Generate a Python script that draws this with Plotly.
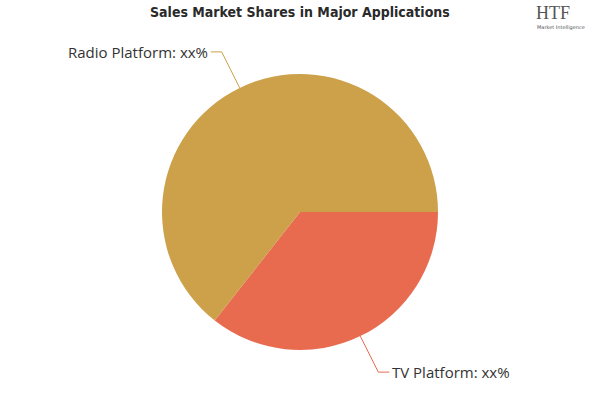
import math
import plotly.graph_objects as go

categories = ["TV Platform", "Radio Platform"]
shares = [35.6, 64.4]
label_texts = ["TV Platform: xx%", "Radio Platform: xx%"]
colors = ["#E86A4F", "#CDA04A"]

W, H = 600, 400
cx, cy, r = 300, 212, 138

fig = go.Figure(go.Pie(
    labels=categories,
    values=shares,
    sort=False,
    direction="clockwise",
    rotation=90,
    textinfo="none",
    hoverinfo="label+percent",
    marker=dict(colors=colors, line=dict(width=0)),
    domain=dict(x=[(cx - r) / W, (cx + r) / W], y=[1 - (cy + r) / H, 1 - (cy - r) / H]),
    showlegend=False,
))

# leader lines and labels, derived from slice mid-angles
total = sum(shares)
start = 0.0
shapes = []
annotations = []
for cat, val, txt, col in zip(categories, shares, label_texts, colors):
    mid = (start + val / 2) / total * 2 * math.pi  # clockwise from 3 o'clock
    start += val
    ex = cx + r * math.cos(mid)
    ey = cy + r * math.sin(mid)
    dy = math.sin(mid)
    side = 1 if math.cos(mid) >= 0 else -1
    ky = ey + 36 * (1 if dy > 0 else -1)
    kx = ex + 18 * side
    tx = kx + 11 * side
    for (x0, y0, x1, y1) in [(ex, ey, kx, ky), (kx, ky, tx, ky)]:
        shapes.append(dict(type="line", xref="paper", yref="paper",
                           x0=x0 / W, y0=1 - y0 / H, x1=x1 / W, y1=1 - y1 / H,
                           line=dict(color=col, width=1)))
    annotations.append(dict(x=(tx + side) / W, y=1 - ky / H, xref="paper", yref="paper",
                            text=txt, showarrow=False,
                            xanchor="left" if side > 0 else "right", yanchor="middle",
                            font=dict(family="Open Sans, DejaVu Sans", size=15, color="#333333")))

annotations.append(dict(x=0.5, y=1 - 12 / H, xref="paper", yref="paper",
                        text="<b>Sales Market Shares in Major Applications</b>", showarrow=False,
                        xanchor="center", yanchor="middle",
                        font=dict(family="DejaVu Sans Condensed, Liberation Sans Narrow, sans-serif", size=14, color="#2a2a2a")))
annotations.append(dict(x=553 / W, y=1 - 13 / H, xref="paper", yref="paper",
                        text="HTF", showarrow=False, xanchor="center", yanchor="middle",
                        font=dict(family="Liberation Serif, serif", size=18, color="#555555")))
annotations.append(dict(x=561 / W, y=1 - 27 / H, xref="paper", yref="paper",
                        text="Market Intelligence", showarrow=False, xanchor="center", yanchor="middle",
                        font=dict(family="DejaVu Sans", size=5, color="#555555")))

fig.update_layout(
    width=W, height=H,
    margin=dict(l=0, r=0, t=0, b=0),
    paper_bgcolor="white", plot_bgcolor="white",
    shapes=shapes, annotations=annotations,
)

fig.write_html("out.html", config={"displayModeBar": False},
               post_script="document.body.style.margin='0';")
